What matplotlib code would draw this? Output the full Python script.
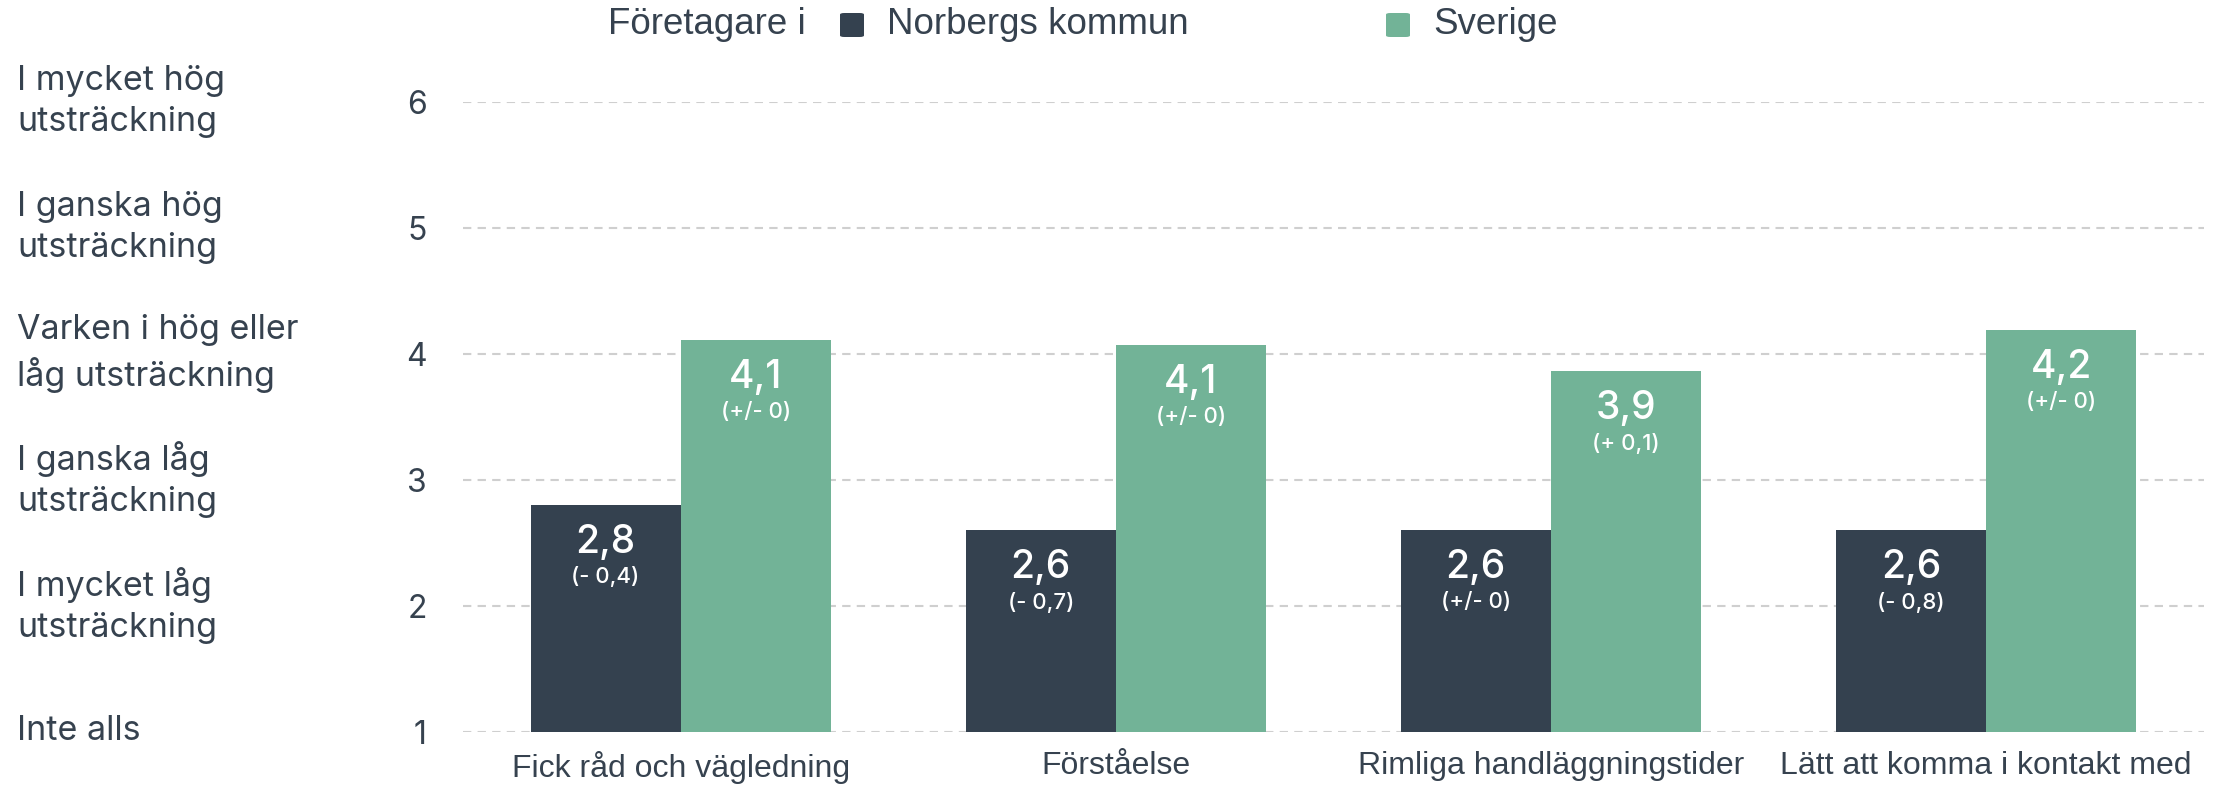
import matplotlib
matplotlib.use("Agg")
import matplotlib.pyplot as plt
from matplotlib.patches import FancyBboxPatch
import numpy as np

# ---- data ----
categories = ["Fick råd och vägledning", "Förståelse",
              "Rimliga handläggningstider", "Lätt att komma i kontakt med"]
kommun = [2.8, 2.6, 2.6, 2.6]
sverige = [4.11, 4.07, 3.86, 4.19]
kommun_change = ["(- 0,4)", "(- 0,7)", "(+/- 0)", "(- 0,8)"]
sverige_change = ["(+/- 0)", "(+/- 0)", "(+ 0,1)", "(+/- 0)"]
yticks = [1, 2, 3, 4, 5, 6]
scale_labels = ["Inte alls", "I mycket låg\nutsträckning", "I ganska låg\nutsträckning",
                "Varken i hög eller\nlåg utsträckning", "I ganska hög\nutsträckning",
                "I mycket hög\nutsträckning"]
legend_title = "Företagare i"
series_names = ["Norbergs kommun", "Sverige"]

DARK = "#34414f"
GREEN = "#72b397"
TEXT = "#36424f"
GRID = "#cfcfcf"

W, H = 2214, 788
fig = plt.figure(figsize=(W / 100, H / 100), dpi=100)
ax = fig.add_axes([463 / W, 1 - 731.5 / H, (2203.6 - 463) / W, (731.5 - 101.5) / H])

x = np.arange(len(categories))
bw = 150 / 435.1
b1 = ax.bar(x - bw / 2, [v - 1 for v in kommun], bw, bottom=1, color=DARK, zorder=3)
b2 = ax.bar(x + bw / 2, [v - 1 for v in sverige], bw, bottom=1, color=GREEN, zorder=3)

ax.set_xlim(-0.5, 3.5)
ax.set_ylim(1, 6)
for s in ax.spines.values():
    s.set_visible(False)
ax.set_yticks(yticks)
ax.set_yticklabels([str(t) for t in yticks], fontsize=23, family="Inter", color=TEXT)
ax.tick_params(axis="y", length=0, pad=26)
ax.set_xticks(x)
ax.set_xticklabels(categories, fontsize=23, family="Liberation Sans", color=TEXT)
ax.tick_params(axis="x", length=0, pad=14)
ax.yaxis.grid(True, color=GRID, linestyle=(0, (4, 3)), linewidth=1.5, zorder=0)
ax.set_axisbelow(True)

# bar labels
for bars, vals, chg in [(b1, kommun, kommun_change), (b2, sverige, sverige_change)]:
    for rect, v, c in zip(bars, vals, chg):
        cx = rect.get_x() + rect.get_width() / 2
        top = rect.get_y() + rect.get_height()
        ax.annotate(f"{v:.1f}".replace(".", ","), (cx, top), xytext=(0, -27),
                    textcoords="offset points", ha="center", va="center",
                    fontsize=28, family="Inter", fontweight="medium",
                    color="white", zorder=5)
        ax.annotate(c, (cx, top), xytext=(0, -52), textcoords="offset points",
                    ha="center", va="center", fontsize=16, family="Inter",
                    fontweight="medium", color="white", zorder=5)

# left scale labels
for t, lab in zip(yticks, scale_labels):
    ax.annotate(lab, xy=(17 / W, t), xycoords=("figure fraction", "data"),
                ha="left", va="center", fontsize=24.5, family="Inter", color=TEXT,
                linespacing=1.38, annotation_clip=False)

# legend
ly = 1 - 25 / H
fig.text(608 / W, ly, legend_title, fontsize=26.5, family="Liberation Sans",
         color=TEXT, ha="left", va="center")
sq = 24
for (sx, tx), col, name in zip([(840, 887), (1386, 1433)], [DARK, GREEN], series_names):
    p = FancyBboxPatch((sx / W, (H - 25 - sq / 2) / H), sq / W, sq / H,
                       boxstyle="round,pad=0,rounding_size=0.002",
                       transform=fig.transFigure, facecolor=col, edgecolor="none")
    fig.patches.append(p)
    fig.text(tx / W, ly, name, fontsize=26.5, family="Liberation Sans",
             color=TEXT, ha="left", va="center")

fig.savefig("out.png", dpi=100)
